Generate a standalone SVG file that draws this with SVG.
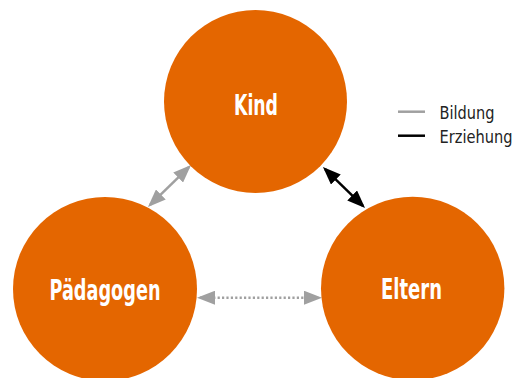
<svg xmlns="http://www.w3.org/2000/svg" width="519" height="378" viewBox="0 0 519 378">
<style>
.node{fill:#E46600}
.lbl{fill:#fff;font-family:"DejaVu Sans Condensed","DejaVu Sans",sans-serif;font-stretch:condensed;font-weight:bold;font-size:28px;text-anchor:middle}
.leg{fill:#222;font-family:"DejaVu Sans Condensed","DejaVu Sans",sans-serif;font-stretch:condensed;font-size:17.5px}
.gray{stroke:#A0A0A0;stroke-width:2.5;fill:none}
.black{stroke:#000;stroke-width:2.5;fill:none}
</style>
<defs>
<marker id="ag" viewBox="0 0 18 14" refX="15" refY="7" markerWidth="18" markerHeight="14" markerUnits="userSpaceOnUse" orient="auto-start-reverse"><path d="M0,0 L18,7 L0,14 z" fill="#A0A0A0"/></marker>
<marker id="ab" viewBox="0 0 18 14" refX="15" refY="7" markerWidth="18" markerHeight="14" markerUnits="userSpaceOnUse" orient="auto-start-reverse"><path d="M0,0 L18,7 L0,14 z" fill="#000"/></marker>
</defs>
<rect width="519" height="378" fill="#fff"/>
<g id="connectors">
<line class="gray" x1="150.1" y1="204.9" x2="188.9" y2="167.1" marker-start="url(#ag)" marker-end="url(#ag)"/>
<line class="black" x1="325.1" y1="169.1" x2="362.9" y2="205.9" marker-start="url(#ab)" marker-end="url(#ab)"/>
<line class="gray" x1="200" y1="297.7" x2="319" y2="297.7" stroke-dasharray="2.2 2.2" marker-start="url(#ag)" marker-end="url(#ag)"/>
</g>
<g id="kind">
<circle class="node" cx="255.5" cy="101.5" r="91.5"/>
<text class="lbl" x="256" y="114.5" textLength="44" lengthAdjust="spacingAndGlyphs">Kind</text>
</g>
<g id="paedagogen">
<circle class="node" cx="105" cy="289" r="92"/>
<text class="lbl" x="105" y="300" textLength="111" lengthAdjust="spacingAndGlyphs">Pädagogen</text>
</g>
<g id="eltern">
<circle class="node" cx="412.7" cy="288.5" r="91.7"/>
<text class="lbl" x="411.5" y="299" textLength="61" lengthAdjust="spacingAndGlyphs">Eltern</text>
</g>
<g id="legend">
<line class="gray" x1="398" y1="111.7" x2="425" y2="111.7"/>
<text class="leg" x="439.5" y="118.5" textLength="55" lengthAdjust="spacingAndGlyphs">Bildung</text>
<line class="black" x1="398" y1="135.7" x2="425" y2="135.7"/>
<text class="leg" x="439.5" y="142.5" textLength="73" lengthAdjust="spacingAndGlyphs">Erziehung</text>
</g>
</svg>
